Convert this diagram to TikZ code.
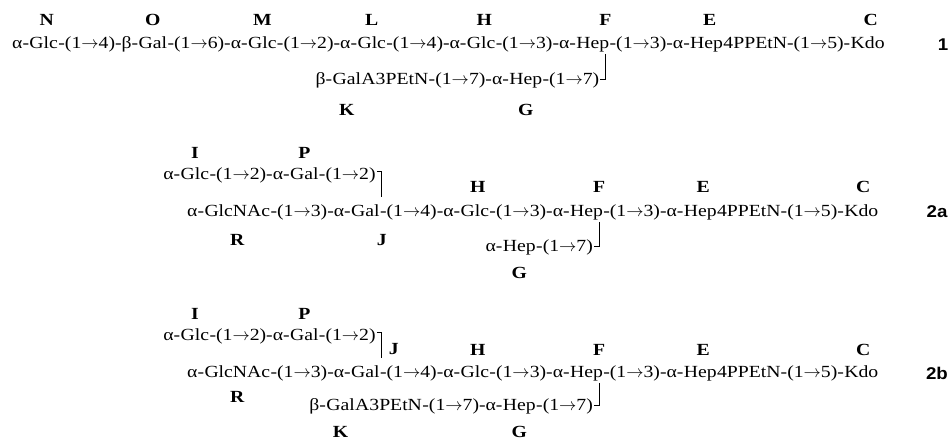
\documentclass[tikz,border=0pt]{standalone}
\usepackage{fontspec}
\setmainfont{Liberation Serif}[FakeStretch=1.16]
\setsansfont{Liberation Sans}[FakeStretch=1.1]
\usetikzlibrary{calc}
\newcommand{\arr}{\ensuremath{\rightarrow}}
\begin{document}
\begin{tikzpicture}[x=1pt,y=-1pt,
  seq/.style={font=\fontsize{17}{20}\selectfont, inner sep=0pt, anchor=base west},
  lbl/.style={font=\fontsize{17}{20}\selectfont\bfseries, inner sep=0pt},
  cmp/.style={font=\fontsize{17}{20}\selectfont\sffamily\bfseries, inner sep=0pt},
  brk/.style={line width=0.8pt}]
\useasboundingbox (0,0) rectangle (950,442);
\coordinate (yA1) at (0,20);
\coordinate (yK1) at (0,110);
% ================= compound 1 =================
\node[seq] (p1) at (12,48) {α-};
\node[seq] (s1N) at (p1.base east) {Glc};
\node[seq] (p2) at (s1N.base east) {-(1\arr4)-β-};
\node[seq] (s1O) at (p2.base east) {Gal};
\node[seq] (p3) at (s1O.base east) {-(1\arr6)-α-};
\node[seq] (s1M) at (p3.base east) {Glc};
\node[seq] (p4) at (s1M.base east) {-(1\arr2)-α-};
\node[seq] (s1L) at (p4.base east) {Glc};
\node[seq] (p5) at (s1L.base east) {-(1\arr4)-α-};
\node[seq] (s1H) at (p5.base east) {Glc};
\node[seq] (p6) at (s1H.base east) {-(1\arr3)-α-};
\node[seq] (s1F) at (p6.base east) {Hep};
\node[seq] (p7) at (s1F.base east) {-(1\arr3)-α-};
\node[seq] (s1E) at (p7.base east) {Hep};
\node[seq] (p8) at (s1E.base east) {4PPEtN-(1\arr5)-};
\node[seq] (s1C) at (p8.base east) {Kdo};
\coordinate (b1) at ($(s1F.base east)+(-4,0)$);
\coordinate (y1) at (0,84);
\node[seq,anchor=base east] (q4) at ($(b1|-y1)+(-6,0)$) {-(1\arr7)};
\node[seq,anchor=base east] (s1G) at (q4.base west) {Hep};
\node[seq,anchor=base east] (q3) at (s1G.base west) {-(1\arr7)-α-};
\node[seq,anchor=base east] (q2) at (q3.base west) {A3PEtN};
\node[seq,anchor=base east] (s1K) at (q2.base west) {Gal};
\node[seq,anchor=base east] (q1) at (s1K.base west) {β-};
\draw[brk] ($(b1|-s1F.south)+(0,2)$) -- ($(b1|-q4.base)+(0,-5)$) -- ($(q4.base east)+(1,-5)$);
\node[lbl] (N) at ($(s1N.center|-yA1)+(3,0)$) {N};
\node[lbl] (O) at (s1O.center|-yA1) {O};
\node[lbl] (M) at (s1M.center|-yA1) {M};
\node[lbl] (L) at (s1L.center|-yA1) {L};
\node[lbl] (H1) at ($(s1H.center|-yA1)+(3,0)$) {H};
\node[lbl] (F1) at (b1|-yA1) {F};
\node[lbl] (E1) at ($(s1E.center|-yA1)+(3,0)$) {E};
\node[lbl] (C1) at ($(s1C.center|-yA1)+(3,0)$) {C};
\node[lbl] (K1) at (s1K.center|-yK1) {K};
\node[lbl] (G1) at (s1G.center|-yK1) {G};
\node[cmp] (c1) at (943,45) {1};
% ================= compound 2a =================
\coordinate (yI2) at (0,153);
\coordinate (yH2) at (0,187);
\coordinate (yR2) at (0,240);
\coordinate (yG2) at (0,273);
\node[seq] (u1) at (187,216) {α-};
\node[seq] (s2R) at (u1.base east) {GlcNAc};
\node[seq] (u2) at (s2R.base east) {-(1\arr3)-α-};
\node[seq] (s2J) at (u2.base east) {Gal};
\node[seq] (u3) at (s2J.base east) {-(1\arr4)-α-};
\node[seq] (s2H) at (u3.base east) {Glc};
\node[seq] (u4) at (s2H.base east) {-(1\arr3)-α-};
\node[seq] (s2F) at (u4.base east) {Hep};
\node[seq] (u5) at (s2F.base east) {-(1\arr3)-α-};
\node[seq] (s2E) at (u5.base east) {Hep};
\node[seq] (u6) at (s2E.base east) {4PPEtN-(1\arr5)-};
\node[seq] (s2C) at (u6.base east) {Kdo};
\coordinate (v2) at ($(s2J.base east)+(2,0)$);
\coordinate (y2u) at (0,179);
\node[seq,anchor=base east] (w4) at ($(v2|-y2u)+(-6,0)$) {-(1\arr2)};
\node[seq,anchor=base east] (s2P) at (w4.base west) {Gal};
\node[seq,anchor=base east] (w3) at (s2P.base west) {-(1\arr2)-α-};
\node[seq,anchor=base east] (s2I) at (w3.base west) {Glc};
\node[seq,anchor=base east] (w1) at (s2I.base west) {α-};
\draw[brk] ($(w4.base east)+(1,-8)$) -- ($(v2|-w4.base)+(0,-8)$) -- ($(v2)+(0,-19)$);
\coordinate (b2) at ($(s2F.base east)+(-4,0)$);
\coordinate (y2) at (0,251);
\node[seq,anchor=base east] (x3) at ($(b2|-y2)+(-6,0)$) {-(1\arr7)};
\node[seq,anchor=base east] (s2G) at (x3.base west) {Hep};
\node[seq,anchor=base east] (x1) at (s2G.base west) {α-};
\draw[brk] ($(b2|-s2F.south)+(0,2)$) -- ($(b2|-x3.base)+(0,-5)$) -- ($(x3.base east)+(1,-5)$);
\node[lbl] (I2) at (s2I.center|-yI2) {I};
\node[lbl] (P2) at (s2P.center|-yI2) {P};
\node[lbl] (H2) at ($(s2H.center|-yH2)+(3,0)$) {H};
\node[lbl] (F2) at (b2|-yH2) {F};
\node[lbl] (E2) at ($(s2E.center|-yH2)+(3,0)$) {E};
\node[lbl] (C2) at ($(s2C.center|-yH2)+(2,0)$) {C};
\node[lbl] (R2) at (s2R.center|-yR2) {R};
\node[lbl] (J2) at (v2|-yR2) {J};
\node[lbl] (G2) at (s2G.center|-yG2) {G};
\node[cmp] (c2a) at (937,212) {2a};
% ================= compound 2b =================
\coordinate (yI3) at (0,314);
\coordinate (yH3) at (0,350);
\coordinate (yR3) at (0,397);
\coordinate (yG3) at (0,432);
\node[seq] (t1) at (187,377) {α-};
\node[seq] (s3R) at (t1.base east) {GlcNAc};
\node[seq] (t2) at (s3R.base east) {-(1\arr3)-α-};
\node[seq] (s3J) at (t2.base east) {Gal};
\node[seq] (t3) at (s3J.base east) {-(1\arr4)-α-};
\node[seq] (s3H) at (t3.base east) {Glc};
\node[seq] (t4) at (s3H.base east) {-(1\arr3)-α-};
\node[seq] (s3F) at (t4.base east) {Hep};
\node[seq] (t5) at (s3F.base east) {-(1\arr3)-α-};
\node[seq] (s3E) at (t5.base east) {Hep};
\node[seq] (t6) at (s3E.base east) {4PPEtN-(1\arr5)-};
\node[seq] (s3C) at (t6.base east) {Kdo};
\coordinate (v3) at ($(s3J.base east)+(2,0)$);
\coordinate (y3u) at (0,340);
\node[seq,anchor=base east] (z4) at ($(v3|-y3u)+(-6,0)$) {-(1\arr2)};
\node[seq,anchor=base east] (s3P) at (z4.base west) {Gal};
\node[seq,anchor=base east] (z3) at (s3P.base west) {-(1\arr2)-α-};
\node[seq,anchor=base east] (s3I) at (z3.base west) {Glc};
\node[seq,anchor=base east] (z1) at (s3I.base west) {α-};
\draw[brk] ($(z4.base east)+(1,-8)$) -- ($(v3|-z4.base)+(0,-8)$) -- ($(v3)+(0,-19)$);
\coordinate (b3) at ($(s3F.base east)+(-4,0)$);
\coordinate (y3) at (0,410);
\node[seq,anchor=base east] (k4) at ($(b3|-y3)+(-6,0)$) {-(1\arr7)};
\node[seq,anchor=base east] (s3G) at (k4.base west) {Hep};
\node[seq,anchor=base east] (k3) at (s3G.base west) {-(1\arr7)-α-};
\node[seq,anchor=base east] (k2) at (k3.base west) {A3PEtN};
\node[seq,anchor=base east] (s3K) at (k2.base west) {Gal};
\node[seq,anchor=base east] (k1) at (s3K.base west) {β-};
\draw[brk] ($(b3|-s3F.south)+(0,2)$) -- ($(b3|-k4.base)+(0,-5)$) -- ($(k4.base east)+(1,-5)$);
\node[lbl] (I3) at (s3I.center|-yI3) {I};
\node[lbl] (P3) at (s3P.center|-yI3) {P};
\node[lbl] (J3) at ($(v3|-yH3)+(12,-1)$) {J};
\node[lbl] (H3) at ($(s3H.center|-yH3)+(3,0)$) {H};
\node[lbl] (F3) at (b3|-yH3) {F};
\node[lbl] (E3) at ($(s3E.center|-yH3)+(3,0)$) {E};
\node[lbl] (C3) at ($(s3C.center|-yH3)+(2,0)$) {C};
\node[lbl] (R3) at (s3R.center|-yR3) {R};
\node[lbl] (K3) at (s3K.center|-yG3) {K};
\node[lbl] (G3) at (s3G.center|-yG3) {G};
\node[cmp] (c2b) at (937,373) {2b};
\end{tikzpicture}
\end{document}
